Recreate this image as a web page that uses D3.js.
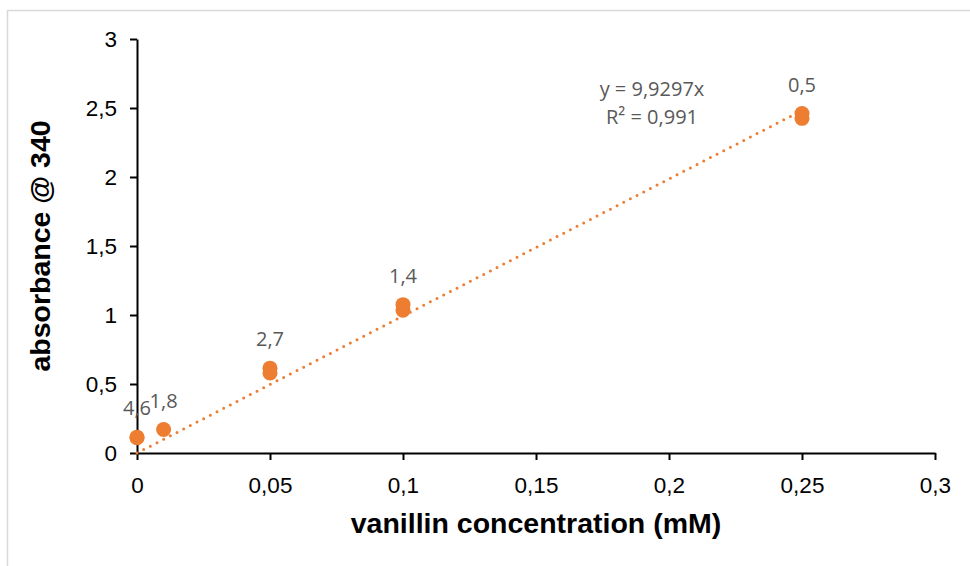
<!DOCTYPE html>
<html lang="en">
<head>
<meta charset="utf-8">
<title>Vanillin calibration</title>
<script src="https://d3js.org/d3.v7.min.js"></script>
<style>
  body { margin: 0; background: #fff; }
  .tick text { font-family: "Liberation Sans", Arial, sans-serif; font-size: 22.5px; fill: #000; }
  .axis-title { font-family: "Liberation Sans", Arial, sans-serif; font-weight: bold; font-size: 28.5px; fill: #000; }
  .note { font-family: "Open Sans", "Noto Sans", sans-serif; font-size: 20px; fill: #595959; }
</style>
</head>
<body>
<script>
// measured points (x in mM, absorbance)
var concs = [0, 0, 0.01, 0.05, 0.05, 0.1, 0.1, 0.25, 0.25];
var absorb = [0.11, 0.115, 0.17, 0.615, 0.58, 1.075, 1.035, 2.46, 2.425];

// data labels, one per concentration level
var labelConcs = [0, 0.01, 0.05, 0.1, 0.25];
var labelY = [0.115, 0.17, 0.615, 1.075, 2.46];
var labelText = ["4,6", "1,8", "2,7", "1,4", "0,5"];

var slope = 9.9297;
var trendRange = [0, 0.25];
var xTicks = [0, 0.05, 0.1, 0.15, 0.2, 0.25, 0.3];
var yTicks = [0, 0.5, 1, 1.5, 2, 2.5, 3];

var width = 970, height = 566;
var orange = "#ED7D31";

var svg = d3.select("body").append("svg")
    .attr("width", width)
    .attr("height", height);

// chart frame (only left and top edges visible in the crop)
svg.append("path")
    .attr("d", "M7.5," + height + "V10.5H" + width)
    .attr("fill", "none")
    .attr("stroke", "#d9d9d9")
    .attr("stroke-width", 1.5);

var x = d3.scaleLinear().domain([0, 0.3]).range([137, 935]);
var y = d3.scaleLinear().domain([0, 3]).range([453, 39]);

var fmt = function(d) { return String(d).replace(".", ","); };

var gx = svg.append("g")
    .attr("transform", "translate(0," + y(0) + ")")
    .call(d3.axisBottom(x).tickValues(xTicks).tickFormat(fmt).tickSize(7).tickSizeOuter(0));
gx.select(".domain").attr("stroke-width", 2);
gx.selectAll(".tick line").attr("stroke-width", 2);
gx.selectAll(".tick text").attr("y", 24);

var gy = svg.append("g")
    .attr("transform", "translate(" + x(0) + ",0)")
    .call(d3.axisLeft(y).tickValues(yTicks).tickFormat(fmt).tickSize(7).tickSizeOuter(0));
gy.select(".domain").attr("stroke-width", 2);
gy.selectAll(".tick line").attr("stroke-width", 2);
gy.selectAll(".tick text").attr("x", -20);

// axis titles
svg.append("text")
    .attr("class", "axis-title")
    .attr("x", (x.range()[0] + x.range()[1]) / 2)
    .attr("y", 533)
    .attr("text-anchor", "middle")
    .text("vanillin concentration (mM)");

svg.append("text")
    .attr("class", "axis-title")
    .attr("transform", "translate(50," + (y(1.5)) + ") rotate(-90)")
    .attr("text-anchor", "middle")
    .text("absorbance @ 340");

// linear trendline through origin
svg.append("line")
    .attr("x1", x(trendRange[0]))
    .attr("y1", y(slope * trendRange[0]))
    .attr("x2", x(trendRange[1]))
    .attr("y2", y(slope * trendRange[1]))
    .attr("stroke", orange)
    .attr("stroke-width", 3)
    .attr("stroke-linecap", "round")
    .attr("stroke-dasharray", "0 7.5");

// points
svg.selectAll("circle.pt")
    .data(concs)
    .enter().append("circle")
    .attr("class", "pt")
    .attr("cx", function(d) { return x(d); })
    .attr("cy", function(d, i) { return y(absorb[i]); })
    .attr("r", 7.5)
    .attr("fill", orange);

// data labels
svg.selectAll("text.lbl")
    .data(labelConcs)
    .enter().append("text")
    .attr("class", "note lbl")
    .attr("x", function(d) { return x(d); })
    .attr("y", function(d, i) { return y(labelY[i]) - 22; })
    .attr("text-anchor", "middle")
    .text(function(d, i) { return labelText[i]; });

// equation
svg.append("text")
    .attr("class", "note")
    .attr("x", 652)
    .attr("y", 96)
    .attr("text-anchor", "middle")
    .text("y = 9,9297x");
svg.append("text")
    .attr("class", "note")
    .attr("x", 652)
    .attr("y", 124)
    .attr("text-anchor", "middle")
    .text("R² = 0,991");
</script>
</body>
</html>
